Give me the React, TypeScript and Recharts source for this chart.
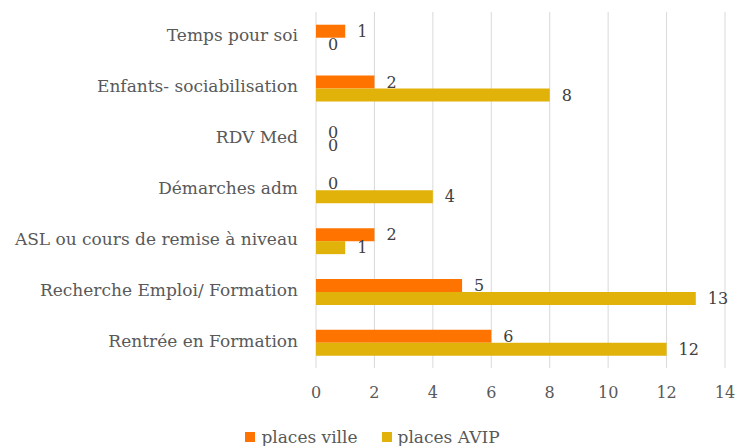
import * as React from "react";
import {
  BarChart,
  Bar,
  XAxis,
  YAxis,
  CartesianGrid,
  Legend,
  LabelList,
} from "recharts";

const categories: string[] = [
  "Temps pour soi",
  "Enfants- sociabilisation",
  "RDV Med",
  "Démarches adm",
  "ASL ou cours de remise à niveau",
  "Recherche Emploi/ Formation",
  "Rentrée en Formation",
];

const placesVille: number[] = [1, 2, 0, 0, 2, 5, 6];
const placesAvip: number[] = [0, 8, 0, 4, 1, 13, 12];

const xTicks: number[] = [0, 2, 4, 6, 8, 10, 12, 14];

const series = [
  { key: "ville", name: "places ville", colour: "#ff7300" },
  { key: "avip", name: "places AVIP", colour: "#e1b20a" },
];

const data = categories.map((name, i) => ({
  name,
  ville: placesVille[i],
  avip: placesAvip[i],
}));

const font = "DejaVu Serif";
const textColour = "#595959";

const ValueLabel = (props: any) => {
  const { x, y, width, height, value } = props;
  return (
    <text
      x={Number(x) + Number(width) + 12}
      y={Number(y) + Number(height) / 2}
      dominantBaseline="central"
      fill="#404040"
      fontFamily={font}
      fontSize={16}
    >
      {String(value)}
    </text>
  );
};

const LegendContent = () => (
  <div
    style={{
      display: "flex",
      justifyContent: "center",
      gap: 24,
      paddingLeft: 20,
      fontFamily: font,
      fontSize: 17,
      color: textColour,
      height: 19,
      alignItems: "center",
    }}
  >
    {series.map((s) => (
      <span key={s.key} style={{ display: "flex", alignItems: "center" }}>
        <span
          style={{
            width: 10,
            height: 10,
            background: s.colour,
            display: "inline-block",
            marginRight: 6,
          }}
        />
        {s.name}
      </span>
    ))}
  </div>
);

export default function App() {
  return (
    <div style={{ position: "absolute", left: 0, top: 0 }}>
      <BarChart
        width={737}
        height={446}
        data={data}
        layout="vertical"
        margin={{ top: 12, right: 12, bottom: 0, left: 0 }}
        barCategoryGap="25%"
        barGap={0}
      >
        <CartesianGrid horizontal={false} stroke="#d9d9d9" />
        <XAxis
          type="number"
          domain={[0, 14]}
          ticks={xTicks}
          axisLine={false}
          tickLine={false}
          tickMargin={13}
          height={59}
          tick={{ fill: textColour, fontFamily: font, fontSize: 16 }}
        />
        <YAxis
          type="category"
          dataKey="name"
          width={316}
          axisLine={false}
          tickLine={false}
          tickMargin={12}
          tick={{ fill: textColour, fontFamily: font, fontSize: 17, dy: -2 }}
        />
        <Legend verticalAlign="bottom" content={<LegendContent />} />
        {series.map((s) => (
          <Bar
            key={s.key}
            dataKey={s.key}
            name={s.name}
            fill={s.colour}
            minPointSize={0.01}
            isAnimationActive={false}
          >
            <LabelList dataKey={s.key} content={<ValueLabel />} />
          </Bar>
        ))}
      </BarChart>
    </div>
  );
}
